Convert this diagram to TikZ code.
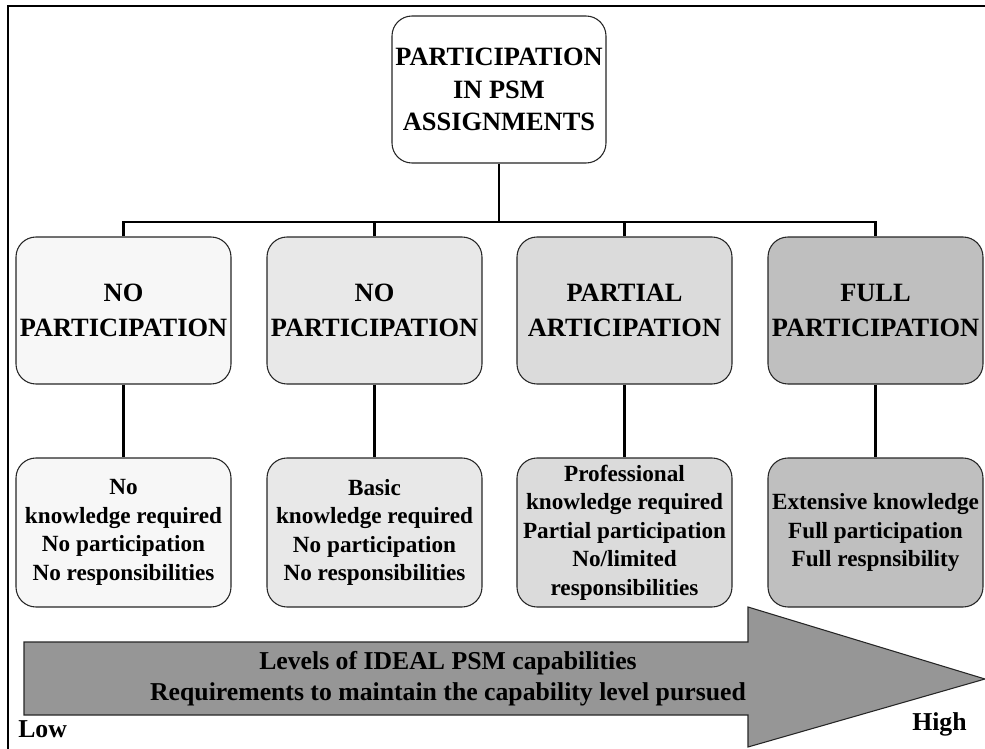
\documentclass[tikz,border=0pt]{standalone}
\usepackage{fontspec}
\setmainfont{Liberation Serif}
\begin{document}
\begin{tikzpicture}[x=0.75pt,y=-0.75pt,
  frame/.style={draw=black, line width=1.5pt},
  conn/.style={draw=black, line width=2.2pt},
  boxbase/.style={draw=black!85, line width=0.8pt, rounded corners=15pt,
    align=center, inner sep=0pt, text=black},
  topbox/.style={boxbase, fill=white, minimum width=160.5pt, minimum height=110.25pt,
    font=\bfseries\fontsize{19.8}{24.4}\selectfont},
  levelbox/.style={boxbase, minimum width=161.25pt, minimum height=110.25pt,
    font=\bfseries\fontsize{19.8}{26.25}\selectfont},
  infobox/.style={boxbase, minimum width=161.25pt, minimum height=111.75pt,
    font=\bfseries\fontsize{17.4}{21.4}\selectfont},
  arrowshape/.style={draw=black!85, line width=0.8pt, fill=black!41},
  scale label/.style={inner sep=0pt, font=\bfseries\fontsize{19.3}{23.25}\selectfont}
]
\useasboundingbox (0,0) rectangle (985,749);
\clip (0,0) rectangle (985,749);

% outer frame
\draw[frame] (8,6) rectangle (995,760);

% root of the hierarchy
\node[topbox] (root) at (499,89.5) {PARTICIPATION\\IN PSM\\ASSIGNMENTS};

% participation levels
\node[levelbox, fill=black!3]  (m1) at (123.5,310.5) {NO\\PARTICIPATION};
\node[levelbox, fill=black!9]  (m2) at (374.5,310.5) {NO\\PARTICIPATION};
\node[levelbox, fill=black!14] (m3) at (624.5,310.5) {PARTIAL\\ARTICIPATION};
\node[levelbox, fill=black!25] (m4) at (875.5,310.5) {FULL\\PARTICIPATION};

% requirements per level
\node[infobox, fill=black!3]  (b1) at (123.5,532.5) {No\\knowledge required\\No participation\\No responsibilities};
\node[infobox, fill=black!9]  (b2) at (374.5,532.5) {Basic\\knowledge required\\No participation\\No responsibilities};
\node[infobox, fill=black!14] (b3) at (624.5,532.5) {Professional\\knowledge required\\Partial participation\\No/limited\\responsibilities};
\node[infobox, fill=black!25] (b4) at (875.5,532.5) {Extensive knowledge\\Full participation\\Full respnsibility};

% tree connectors
\coordinate (bus) at (499,222);
\draw[conn] (root.south) -- (root.south |- bus);
\draw[conn] (m1.north) -- (m1.north |- bus) -- (m4.north |- bus) -- (m4.north);
\draw[conn] (m2.north) -- (m2.north |- bus);
\draw[conn] (m3.north) -- (m3.north |- bus);
\draw[conn] (m1.south) -- (b1.north);
\draw[conn] (m2.south) -- (b2.north);
\draw[conn] (m3.south) -- (b3.north);
\draw[conn] (m4.south) -- (b4.north);

% capability scale arrow
\draw[arrowshape] (24,642) -- (748,642) -- (748,607) -- (985,679) -- (748,747)
  -- (748,715) -- (24,715) -- cycle;
\node[scale label, align=center] (scale) at (448,679)
  {Levels of IDEAL PSM capabilities\\Requirements to maintain the capability level pursued};
\node[scale label, anchor=base west] (low) at (18,737) {Low};
\node[scale label, anchor=base west] (high) at (912,730) {High};
\end{tikzpicture}
\end{document}
